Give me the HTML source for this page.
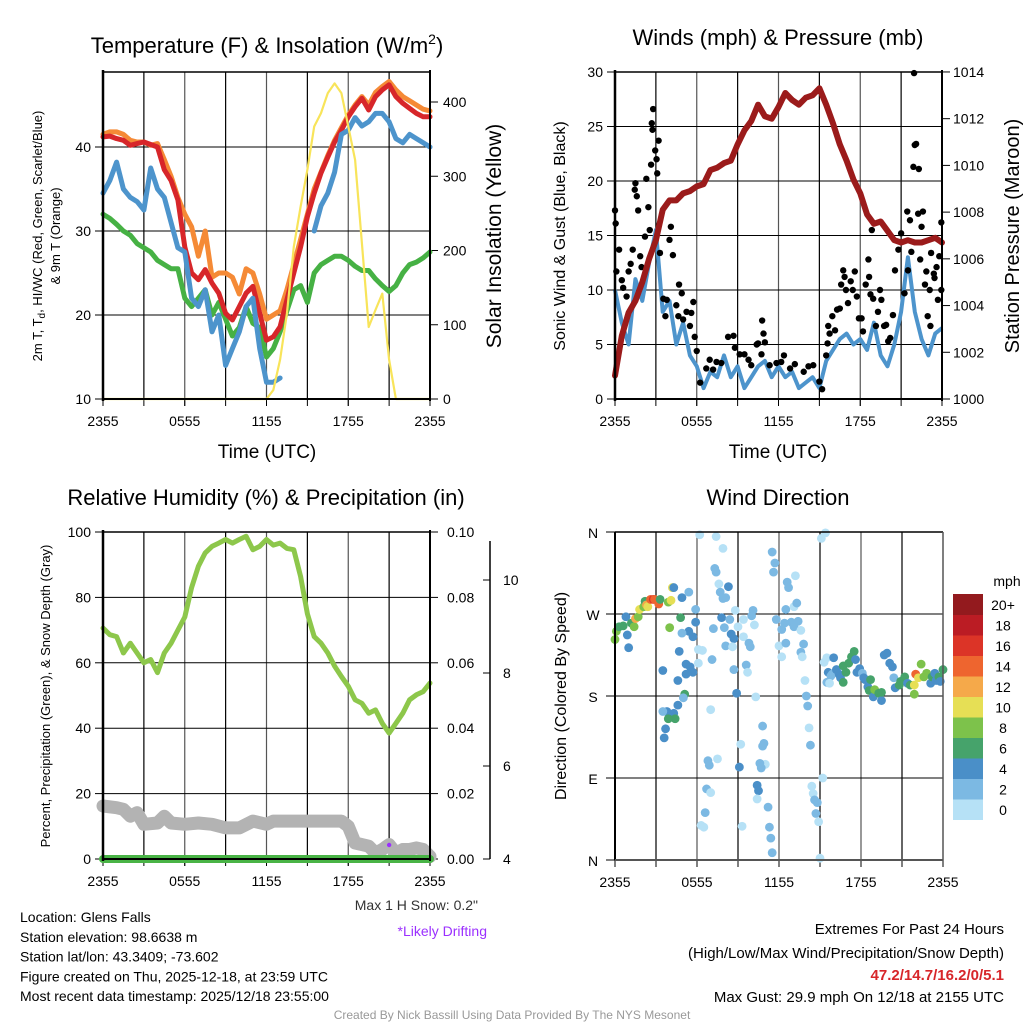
<!DOCTYPE html>
<html><head><meta charset="utf-8"><style>
body{margin:0;background:#fff;}
svg{display:block;font-family:"Liberation Sans",sans-serif;}
</style></head><body>
<svg id="c" width="1024" height="1024" viewBox="0 0 1024 1024"></svg>
<script>
// ---------- DATA ----------
const hours = [0,0.5,1,1.5,2,2.5,3,3.5,4,4.5,5,5.5,6,6.5,7,7.5,8,8.5,9,9.5,10,10.5,11,11.5,12,12.5,13,13.5,14,14.5,15,15.5,16,16.5,17,17.5,18,18.5,19,19.5,20,20.5,21,21.5,22,22.5,23,23.5,24];
const tickLabels = ["2355","0555","1155","1755","2355"];
const tempRed = [41.2,41.3,41,40.8,40.2,40.4,40.6,40.3,40,37.3,36,33.7,28.1,25,24.2,25.4,23.8,22.6,20.2,19.4,21,22.6,23.4,20.2,17,17.4,18.6,21.8,25,28.1,31.7,34.5,36.9,38.8,40.6,42,43.6,44.8,45.8,44.4,46,46.8,47.4,46,45.2,44.6,44,43.6,43.6];
const tempOrange = [41.5,41.8,41.8,41.5,40.8,40.6,40.6,40.2,40.4,38.5,36.5,34,32,30.5,27,30,24.5,25,25,24.5,22.5,25.5,25,22.5,19.5,20,20.5,23,26,29,32,35,37,39,40.8,42.3,43.8,45,46,45,46.5,47.2,47.8,46.8,46,45.5,45,44.5,44.3];
const tempBlue = [34.5,36,38.2,35,34,33.5,32.5,37.5,35,34,31,28,27.5,22,21,23,18,20,14,16,18,21,22,16,12,12,12.5,null,null,24,null,30,33,34.5,37,41.5,42,43.5,42.5,43,44,44,43,41,40.5,41.5,41,40.5,40];
const dewGreen = [32,31.5,30.8,30,29.5,28.5,28,27.5,26.5,26,25.5,25.5,22,21,22,23,20,21.5,19.5,17.5,18.5,21,19,18.5,15,16,18,20.5,23,23.5,21.5,25,26,26.5,27,27,26.5,25.8,25.3,25.3,24.3,23.5,22.8,23.5,25,26,26.3,26.8,27.5];
const insolation = [0,0,0,0,0,0,0,0,0,0,0,0,0,0,0,0,0,0,0,0,0,0,0,0,0,12,53,115,205,259,309,367,385,412,425,412,367,322,210,97,120,142,53,0,0,0,0,0,0];
const tempTicks = [10,20,30,40];
const insolTicks = [0,100,200,300,400];

const windSonic = [10,7,5,11,9,12.5,15.5,8,9,5,7,4,3,1,2.5,2,4,2,3,1,2,3,3.5,2,3,2,2.5,1,1.5,2,1,3.5,4.5,5.5,6,5,5.5,4.5,7,4,3,5,8,13,8,5.5,4,6,6.5];
const pressure = [1001.0,1002.7,1003.7,1004.2,1005.0,1006.0,1006.8,1008.1,1008.5,1008.5,1008.8,1008.9,1009.1,1009.2,1009.8,1009.9,1010.1,1010.2,1010.9,1011.5,1011.9,1012.6,1012.1,1012.0,1012.5,1013.1,1012.8,1012.6,1012.9,1013.0,1013.3,1012.6,1011.8,1010.9,1010.2,1009.4,1008.8,1007.9,1007.5,1007.6,1007.2,1006.8,1006.7,1006.8,1006.7,1006.7,1006.8,1006.9,1006.7];
const gustHours = [0,0.05,0.1,0.3,0.5,0.6,0.85,1,1.15,1.3,1.45,1.5,1.6,1.7,1.85,1.95,2.2,2.3,2.45,2.55,2.65,2.7,2.75,2.8,2.95,3.05,3.1,3.2,3.3,3.55,3.7,3.8,4,4.1,4.25,4.7,4.9,4.5,4.65,5,5.25,5.5,5.6,5.75,5.85,6,6.25,6.7,6.95,7.2,7.45,7.8,8.3,8.7,8.8,9.15,9.5,9.8,10,10.4,10.5,10.8,10.9,11,10.75,11.35,11.85,12.2,12.4,12.85,13.2,13.85,14.2,14.55,15,15.2,15.5,15.6,15.65,15.75,15.95,16.15,16.3,16.5,16.6,16.75,16.85,16.95,17.1,17.3,17.45,17.6,17.75,17.9,18.1,18.2,18.4,18.6,18.65,18.85,18.75,18.95,19.15,19.3,19.45,19.55,19.75,19.9,20.05,20.2,20.4,20.55,20.8,21,21.25,21.45,21.5,21.65,21.75,21.95,22,21.9,22.1,22.3,22.25,22.4,22.5,22.6,22.75,22.85,22.95,23.1,23.15,23.2,23.4,23.45,23.6,23.7,23.8,23.95,23.95];
const gustValues = [17.3,16.1,11.7,13.7,10.9,10.2,9.4,11.7,12.4,13.7,19.2,19.8,18.6,17.3,13.1,12.1,14.9,20.2,17.6,15.5,21.5,25.3,24.7,26.6,22.8,22,20.7,23.7,13.4,9.2,7.6,9.1,14.6,15.8,13.2,10.5,9.7,8.6,7.6,7.3,8,6.7,7.9,8.9,5.7,4.4,1.5,2.8,3.6,2.7,3.4,3.3,5.7,5.8,4.7,4.1,4.1,3.6,3.1,5,5.1,7.2,6,5.2,4.1,3.1,3.3,3.4,4,2.8,3.2,2.5,3,3.1,1.6,0.9,4,5.1,6.7,6,7.6,6.3,8.2,8.3,10.5,11.8,11.2,10,8.8,10.8,10,11.7,9.4,7.4,7.4,6.2,10.5,12.8,11.2,15.5,9.6,9.2,6.7,8,10,9.1,6.7,6.8,5.3,5.6,7.7,11.8,13.7,15.2,9.7,17.2,11.8,16.4,13.5,29.9,23.3,21.3,23.4,21.1,17,12.8,15.8,17.2,10.5,11.7,7.6,10,6.7,13.4,11.5,11.1,12.1,9.1,13.1,10,16.2];
const windTicks = [0,5,10,15,20,25,30];
const pressTicks = [1000,1002,1004,1006,1008,1010,1012,1014];

const rh = [70.6,68.6,68,63,66,63,60,61,57,63,66,70,74,83,89.5,93.6,95.6,96.6,97.7,96.6,97.7,98.7,94.6,95.6,97.7,96,96.6,95,94.6,86.4,75,68,66,63,59,55.8,52.8,48.7,47.6,44.6,45.6,41.5,38.5,41.5,44.6,48.7,50.2,51.2,53.8];
const snowHours = [0,1,1.5,2,2.5,3,4,4.5,5,6,7,8,9,10,11,12,12.5,13,14,15,16,17,17.5,18,18.5,19,19.5,20,20.5,21,21.5,22,22.5,23,23.5,24];
const snowGray = [16.2,15.7,15.2,13.1,14.2,10.6,11,13.1,11,10.6,11,10.6,9.5,9.5,11.6,10.6,11.6,11.6,11.6,11.6,11.6,11.6,11.6,10,4.9,4.4,3.9,1.8,2.9,4.4,1.8,2.9,2.9,3.4,2.9,0.8];
const precip = [0,0,0,0,0,0,0,0,0,0,0,0,0,0,0,0,0,0,0,0,0,0,0,0,0,0,0,0,0,0,0,0,0,0,0,0,0,0,0,0,0,0,0,0,0,0,0,0,0];
const rhTicks = [0,20,40,60,80,100];
const precipTicks = ["0.00","0.02","0.04","0.06","0.08","0.10"];
const snowTicks = [4,6,8,10];

const dirHours = [0,0.1,0.3,0.6,0.9,0.8,1.0,1.2,1.4,1.5,1.7,1.8,2.1,2.2,2.3,2.4,2.6,2.8,2.9,3.2,3.3,3.9,4.1,4.2,4.3,4.0,4.8,4.9,5.4,4.7,3.5,5.2,5.2,5.4,5.5,5.7,5.9,5.9,5.7,4.6,5.1,5.0,4.6,4.3,4.4,3.8,3.5,3.9,3.7,3.6,4.9,6.1,6.4,6.1,6.2,7.4,7.9,7.3,7.4,7.6,7.7,8.3,7.9,8.1,7.8,7.2,8.0,8.4,8.5,8.7,8.1,8.6,8.8,9.0,9.4,9.4,9.8,9.9,10.1,10.0,10.2,9.6,9.7,7.1,8.7,8.9,10.3,7.0,9.2,10.8,10.8,10.9,11.0,10.6,10.7,9.1,6.8,6.9,7.5,6.7,7.0,10.4,10.5,10.4,11.2,6.6,6.3,6.5,9.3,11.3,11.4,11.5,11.5,11.7,11.6,12.6,12.7,13.2,12.5,13.1,13.3,11.8,12.2,12.4,12.9,13.1,13.4,13.6,12.0,12.5,13.6,13.7,12.2,13.8,13.9,14.0,14.1,14.2,14.3,15.2,14.4,14.5,14.6,14.8,14.7,14.9,15.0,15.1,15.4,15.3,15.5,16.0,15.6,15.8,15.5,15.7,15.9,16.2,16.4,16.5,16.7,16.7,16.9,17.1,17.3,17.5,17.6,17.7,17.9,18.1,18.2,18.3,18.5,18.6,18.7,18.9,19.0,19.3,19.5,19.5,19.7,19.9,20.1,20.3,20.4,20.5,20.8,20.9,21.2,21.4,21.6,21.9,21.9,22.0,22.2,22.4,22.6,22.8,23.1,23.2,23.4,23.5,23.7,23.8,24.0];
const dirDegrees = [242,251,256,257,247,267,233,260,256,265,267,275,278,284,280,278,286,286,286,281,286,283,285,299,299,255,266,288,294,229,208,215,204,251,212,245,261,275,206,197,182,178,170,161,155,163,163,155,144,134,249,231,230,216,357,355,342,320,316,303,294,300,287,288,266,254,255,264,248,243,235,234,274,256,245,264,238,234,274,268,258,214,206,220,209,183,179,165,127,147,125,128,105,106,101,102,109,104,111,78,74,82,76,67,58,52,38,36,37,36,24,8,338,326,316,305,299,312,275,278,282,264,253,260,261,256,262,252,235,238,228,223,223,237,197,180,169,145,126,90,81,73,66,63,51,42,2,353,359,217,222,222,206,202,195,194,204,209,204,200,195,213,206,216,223,229,220,206,210,205,200,198,190,186,198,179,187,183,175,184,225,227,216,212,200,189,192,196,201,194,192,182,192,204,200,215,201,205,194,201,205,197,201,196,209];
const dirSpeeds = [9,9,7,7,5,5,5,7,9,13,9,11,9,7,13,11,15,17,15,15,7,9,11,11,5,9,7,5,3,5,5,5,5,5,5,5,5,3,5,5,7,3,5,5,7,5,3,7,5,5,3,1,1,1,1,1,1,3,3,1,3,5,3,3,5,3,3,3,5,5,3,1,1,1,1,1,3,3,3,3,1,3,1,3,3,5,1,1,1,3,3,3,1,3,3,5,3,3,1,3,1,5,5,1,3,3,1,1,1,3,3,3,3,3,3,3,3,1,3,1,3,3,3,3,3,3,3,1,1,3,3,1,1,3,1,3,3,1,3,1,1,1,3,3,3,1,1,1,1,1,1,5,5,3,3,1,3,5,5,5,7,7,7,7,7,7,5,5,5,3,5,5,5,7,7,5,9,7,5,7,5,5,5,5,3,5,7,7,7,5,7,9,11,15,11,9,9,9,5,7,5,5,7,5,7,7];
const dirTicks = ["N","E","S","W","N"];
const speedBins = ["0","2","4","6","8","10","12","14","16","18","20+"];
const speedColors = ["#b6e1f6","#7cb9e3","#4a8fc8","#46a36b","#7dc24b","#e6df55","#f5a94a","#ee652f","#dc3427","#bb1c24","#931a1e"];

// ---------- HELPERS ----------
const NS = "http://www.w3.org/2000/svg";
const svg = document.getElementById("c");
function el(tag, attrs, name, parent) {
  const e = document.createElementNS(NS, tag);
  for (const k in attrs) e.setAttribute(k, attrs[k]);
  
  
  (parent || svg).appendChild(e);
  return e;
}
function txt(x, y, s, size, anchor, name, extra) {
  const t = el("text", Object.assign({x:x, y:y, "font-size":size, "text-anchor":anchor||"middle", fill:"#000"}, extra||{}), name);
  t.textContent = s;
  return t;
}
function vtxt(x, y, s, size, name, extra) {
  const t = el("text", Object.assign({x:0, y:0, "font-size":size, "text-anchor":"middle", fill:"#000", transform:"translate("+x+","+y+") rotate(-90)"}, extra||{}), name);
  t.textContent = s;
  return t;
}
function linePath(xs, ys, fx, fy) {
  let d = "", pen = false;
  for (let i = 0; i < xs.length; i++) {
    if (ys[i] === null || ys[i] === undefined) { pen = false; continue; }
    d += (pen ? "L" : "M") + fx(xs[i]).toFixed(1) + "," + fy(ys[i]).toFixed(1);
    pen = true;
  }
  return d;
}
function frame(x0, x1, y0, y1, pname) {
  const fx = h => x0 + h / 24 * (x1 - x0);
  for (let h = 3; h < 24; h += 3) {
    el("line", {x1:fx(h), x2:fx(h), y1:y0, y2:y1, stroke:(h%6==0?"#555":"#000"), "stroke-width":1.2}, pname + "-grid-v");
    el("line", {x1:fx(h), x2:fx(h), y1:y1, y2:y1+7, stroke:"#000", "stroke-width":1}, pname + "-x-tick");
  }
  for (let i = 0; i < 5; i++) {
    const h = i * 6;
    el("line", {x1:fx(h), x2:fx(h), y1:y1, y2:y1+7, stroke:"#000", "stroke-width":1}, pname + "-x-tick");
    txt(fx(h), y1 + 27, tickLabels[i], 14, "middle", pname + "-x-tick-label");
  }
  return fx;
}
function border(x0, x1, y0, y1, pname) {
  el("line", {x1:x0, x2:x1, y1:y0, y2:y0, stroke:"#000", "stroke-width":1.5}, pname + "-top-border");
  el("line", {x1:x0, x2:x0, y1:y0-2, y2:y1+2, stroke:"#000", "stroke-width":2.5}, pname + "-left-axis");
  el("line", {x1:x1, x2:x1, y1:y0-2, y2:y1+2, stroke:"#000", "stroke-width":2}, pname + "-right-axis");
  el("line", {x1:x0, x2:x1, y1:y1, y2:y1, stroke:"#000", "stroke-width":2}, pname + "-bottom-axis");
}

// ---------- PANEL 1: Temperature ----------
(function(){
  const x0=103,x1=430,y0=72,y1=399;
  const fx = frame(x0,x1,y0,y1,"temp");
  const fy = v => y1 - (v - 10) * 8.4;
  const fr = v => y1 - v * 0.7425;
  tempTicks.forEach(v => {
    if (v > 10) el("line", {x1:x0, x2:x1, y1:fy(v), y2:fy(v), stroke:"#000", "stroke-width":1}, "temp-grid-h");
    el("line", {x1:x0-8, x2:x0, y1:fy(v), y2:fy(v), stroke:"#000", "stroke-width":1}, "temp-y-tick");
    txt(x0-12, fy(v)+5, String(v), 14, "end", "temp-y-tick-label");
  });
  insolTicks.forEach(v => {
    el("line", {x1:x1, x2:x1+8, y1:fr(v), y2:fr(v), stroke:"#000", "stroke-width":1}, "insol-y-tick");
    txt(x1+13, fr(v)+5, String(v), 14, "start", "insol-y-tick-label");
  });
  el("path", {d:linePath(hours, dewGreen, fx, fy), fill:"none", stroke:"#46b144", "stroke-width":5, "stroke-linejoin":"round", "stroke-linecap":"round"}, "dewpoint-line");
  el("path", {d:linePath(hours, tempOrange, fx, fy), fill:"none", stroke:"#f58a36", "stroke-width":5, "stroke-linejoin":"round", "stroke-linecap":"round"}, "temp-9m-line");
  el("path", {d:linePath(hours, tempRed, fx, fy), fill:"none", stroke:"#d7262a", "stroke-width":5, "stroke-linejoin":"round", "stroke-linecap":"round"}, "temp-2m-line");
  el("path", {d:linePath(hours, tempBlue, fx, fy), fill:"none", stroke:"#4d94cc", "stroke-width":5, "stroke-linejoin":"round", "stroke-linecap":"round"}, "windchill-line");
  el("path", {d:linePath(hours, insolation, fx, fr), fill:"none", stroke:"#f8e45a", "stroke-width":2.2, "stroke-linejoin":"round"}, "insolation-line");
  border(x0,x1,y0,y1,"temp");
  const t = txt(267, 53, "Temperature (F) & Insolation (W/m", 22, "middle", "temp-chart-title");
  const sup = document.createElementNS(NS, "tspan"); sup.setAttribute("dy","-9"); sup.setAttribute("font-size","14"); sup.textContent="2"; t.appendChild(sup);
  const cl = document.createElementNS(NS, "tspan"); cl.setAttribute("dy","9"); cl.textContent=")"; t.appendChild(cl);
  txt(267, 458, "Time (UTC)", 19, "middle", "temp-x-axis-title");
  const yt = vtxt(42, 236, "2m T, T", 13, "temp-y-axis-title");
  const sub = document.createElementNS(NS, "tspan"); sub.setAttribute("dy","3"); sub.setAttribute("font-size","10"); sub.textContent="d"; yt.appendChild(sub);
  const rest = document.createElementNS(NS, "tspan"); rest.setAttribute("dy","-3"); rest.textContent=", HI/WC (Red, Green, Scarlet/Blue)"; yt.appendChild(rest);
  vtxt(60, 236, "& 9m T (Orange)", 13, "temp-y-axis-title-line2");
  vtxt(501, 236, "Solar Insolation (Yellow)", 21, "insol-y-axis-title");
})();

// ---------- PANEL 2: Winds ----------
(function(){
  const x0=615,x1=942,y0=72,y1=399;
  const fx = frame(x0,x1,y0,y1,"wind");
  const fy = v => y1 - v * 10.9;
  const fp = p => y1 - (p - 1000) * 23.36;
  windTicks.forEach(v => {
    if (v > 0 && v < 30) el("line", {x1:x0, x2:x1, y1:fy(v), y2:fy(v), stroke:"#000", "stroke-width":1}, "wind-grid-h");
    el("line", {x1:x0-8, x2:x0, y1:fy(v), y2:fy(v), stroke:"#000", "stroke-width":1}, "wind-y-tick");
    txt(x0-12, fy(v)+5, String(v), 14, "end", "wind-y-tick-label");
  });
  pressTicks.forEach(v => {
    el("line", {x1:x1, x2:x1+8, y1:fp(v), y2:fp(v), stroke:"#000", "stroke-width":1}, "pressure-y-tick");
    txt(x1+11, fp(v)+5, String(v), 14, "start", "pressure-y-tick-label");
  });
  el("path", {d:linePath(hours, windSonic, fx, fy), fill:"none", stroke:"#4d94cc", "stroke-width":4, "stroke-linejoin":"round"}, "sonic-wind-line");
  for (let i = 0; i < gustHours.length; i++) {
    const c = el("circle", {cx:fx(gustHours[i]), cy:fy(gustValues[i]), r:3.2, fill:"#000"}, "gust-point");
  }
  el("path", {d:linePath(hours, pressure, fx, fp), fill:"none", stroke:"#9b1b1b", "stroke-width":6, "stroke-linejoin":"round", "stroke-linecap":"round"}, "pressure-line");
  border(x0,x1,y0,y1,"wind");
  txt(778, 45, "Winds (mph) & Pressure (mb)", 22, "middle", "wind-chart-title");
  txt(778, 458, "Time (UTC)", 19, "middle", "wind-x-axis-title");
  vtxt(565, 236, "Sonic Wind & Gust (Blue, Black)", 16, "wind-y-axis-title");
  vtxt(1019, 236, "Station Pressure (Maroon)", 20, "pressure-y-axis-title");
})();

// ---------- PANEL 3: RH ----------
(function(){
  const x0=103,x1=430,y0=532,y1=859;
  const fx = frame(x0,x1,y0,y1,"rh");
  const fy = v => y1 - v * 3.27;
  const fs = v => y1 - (v - 4) * 46.5;
  rhTicks.forEach((v,i) => {
    if (v > 0 && v < 100) el("line", {x1:x0, x2:x1, y1:fy(v), y2:fy(v), stroke:"#000", "stroke-width":1}, "rh-grid-h");
    el("line", {x1:x0-8, x2:x0, y1:fy(v), y2:fy(v), stroke:"#000", "stroke-width":1}, "rh-y-tick");
    txt(x0-12, fy(v)+5, String(v), 14, "end", "rh-y-tick-label");
    el("line", {x1:x1, x2:x1+8, y1:fy(v), y2:fy(v), stroke:"#000", "stroke-width":1}, "precip-y-tick");
    txt(x1+17, fy(v)+5, precipTicks[i], 14, "start", "precip-y-tick-label");
  });
  el("line", {x1:490, x2:490, y1:541, y2:859, stroke:"#000", "stroke-width":1.5}, "snow-depth-axis");
  snowTicks.forEach(v => {
    el("line", {x1:483, x2:490, y1:fs(v), y2:fs(v), stroke:"#000", "stroke-width":1}, "snow-y-tick");
    txt(503, fs(v)+5, String(v), 14, "start", "snow-y-tick-label");
  });
  el("path", {d:linePath(snowHours, snowGray, fx, fy), fill:"none", stroke:"#b3b3b3", "stroke-width":13, "stroke-linejoin":"round", "stroke-linecap":"round"}, "snow-depth-line");
  el("path", {d:linePath(hours, precip, fx, v => y1 - v * 3270), fill:"none", stroke:"#49b446", "stroke-width":8, "stroke-linecap":"round"}, "precip-line");
  el("path", {d:linePath(hours, rh, fx, fy), fill:"none", stroke:"#8dc74b", "stroke-width":5, "stroke-linejoin":"round", "stroke-linecap":"round"}, "rh-line");
  el("circle", {cx:fx(21), cy:845, r:2.2, fill:"#9b30ff"}, "drifting-marker");
  border(x0,x1,y0,y1,"rh");
  txt(266, 505, "Relative Humidity (%) & Precipitation (in)", 22, "middle", "rh-chart-title");
  vtxt(50, 696, "Percent, Precipitation (Green), & Snow Depth (Gray)", 13, "rh-y-axis-title");
  txt(478, 910, "Max 1 H Snow: 0.2\"", 14, "end", "max-snow-label", {fill:"#333"});
  txt(487, 936, "*Likely Drifting", 14, "end", "drifting-note", {fill:"#9b30ff"});
})();

// ---------- PANEL 4: Wind direction ----------
(function(){
  const x0=615,x1=943,y0=532,y1=860;
  const fx = frame(x0,x1,y0,y1,"dir");
  const fy = d => y1 - d / 360 * (y1 - y0);
  dirTicks.forEach((s,i) => {
    const y = fy(i*90);
    if (i > 0 && i < 4) el("line", {x1:x0, x2:x1, y1:y, y2:y, stroke:"#000", "stroke-width":1}, "dir-grid-h");
    el("line", {x1:x0-9, x2:x0, y1:y, y2:y, stroke:"#000", "stroke-width":1}, "dir-y-tick");
    txt(x0-22, y+6, s, 14, "middle", "dir-y-tick-label");
  });
  for (let i = 0; i < dirHours.length; i++) {
    const b = Math.min(10, Math.floor(dirSpeeds[i] / 2));
    const c = el("circle", {cx:fx(dirHours[i]), cy:fy(dirDegrees[i]), r:4.4, fill:speedColors[b]}, "wind-direction-point");
  }
  el("line", {x1:x0, x2:x1, y1:y0, y2:y0, stroke:"#000", "stroke-width":1.5}, "dir-top-border");
  el("line", {x1:x0, x2:x0, y1:y0, y2:y1, stroke:"#000", "stroke-width":2}, "dir-left-axis");
  el("line", {x1:x1, x2:x1, y1:y0, y2:y1, stroke:"#555", "stroke-width":1.5}, "dir-right-axis");
  el("line", {x1:x0, x2:x1, y1:y1, y2:y1, stroke:"#555", "stroke-width":2}, "dir-bottom-axis");
  const cb0 = 594, cbh = 20.5;
  for (let i = 0; i < speedBins.length; i++) {
    const yy = cb0 + (10 - i) * cbh;
    el("rect", {x:953, y:yy, width:30, height:cbh+0.5, fill:speedColors[i]}, "colorbar-swatch");
    txt(1003, yy + 16, speedBins[i], 14, "middle", "colorbar-label");
  }
  txt(1007, 586, "mph", 14, "middle", "colorbar-title");
  txt(778, 505, "Wind Direction", 22, "middle", "dir-chart-title");
  vtxt(566, 696, "Direction (Colored By Speed)", 16, "dir-y-axis-title");
})();

// ---------- Footer text ----------
const info = ["Location: Glens Falls","Station elevation: 98.6638 m","Station lat/lon: 43.3409; -73.602","Figure created on Thu, 2025-12-18, at 23:59 UTC","Most recent data timestamp: 2025/12/18 23:55:00"];
info.forEach((s,i) => { txt(20, 922 + i*19.8, s, 14, "start", "station-info-line"); });
txt(1004, 934, "Extremes For Past 24 Hours", 15, "end", "extremes-title");
txt(1004, 958, "(High/Low/Max Wind/Precipitation/Snow Depth)", 15, "end", "extremes-subtitle");
txt(1004, 980, "47.2/14.7/16.2/0/5.1", 15, "end", "extremes-values", {fill:"#d7262a", "font-weight":"bold"});
txt(1004, 1002, "Max Gust: 29.9 mph On 12/18 at 2155 UTC", 15, "end", "max-gust-label");
txt(512, 1019, "Created By Nick Bassill Using Data Provided By The NYS Mesonet", 12, "middle", "credit-footer", {fill:"#999"});
</script>
</body></html>
